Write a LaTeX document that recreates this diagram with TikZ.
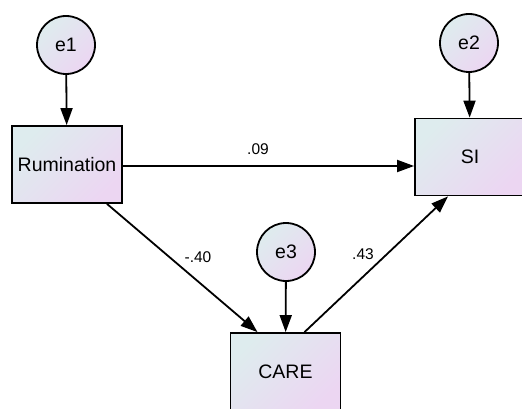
\documentclass[tikz,border=0pt]{standalone}
\usepackage{fontspec}
\setmainfont{Liberation Sans}
\usetikzlibrary{arrows.meta,calc}

\definecolor{fillA}{RGB}{222,236,238}
\definecolor{fillB}{RGB}{236,214,242}

\tikzset{
  var/.style={draw=black,line width=1.8pt,left color=fillA,right color=fillB,shading angle=45,
    minimum width=110pt,minimum height=77pt,font=\fontsize{19.5}{19.5}\selectfont},
  err/.style={circle,draw=black,line width=1.8pt,left color=fillA,right color=fillB,shading angle=45,
    minimum size=58pt,inner sep=0pt,font=\fontsize{19.5}{19.5}\selectfont},
  path/.style={line width=1.8pt,-{Triangle[length=17pt,width=12pt]}},
  coef/.style={font=\fontsize{15.5}{15.5}\selectfont}
}

\begin{document}
\begin{tikzpicture}[x=1pt,y=-1pt]

\useasboundingbox (0,0) rectangle (522,409);

% observed variables
\node [var] (rum) at (67,164.5) {Rumination};
\node [var] (si) at (470,157) {SI};
\node [var] (care) at (285.5,371.5) {CARE};

% error terms
\node [err] (e1) at (66,45) {e1};
\node [err] (e2) at (469,43) {e2};
\node [err] (e3) at (286,252) {e3};

\draw [path] (e1) -- (rum);
\draw [path] (e2) -- (si);
\draw [path] (e3) -- (care);

% regression paths
\draw [path] ([yshift=-1.5pt]rum.east) -- ([yshift=-1.5pt]rum.east -| si.west);
\draw [path] ([xshift=40pt]rum.south) -- ([xshift=-28pt]care.north);
\draw [path] ([xshift=19pt]care.north) -- ([xshift=-22pt]si.south);

\node [coef] (b1) at (258,149) {.09};
\node [coef] (b2) at (198,257) {-.40};
\node [coef] (b3) at (363,254) {.43};

\end{tikzpicture}
\end{document}
